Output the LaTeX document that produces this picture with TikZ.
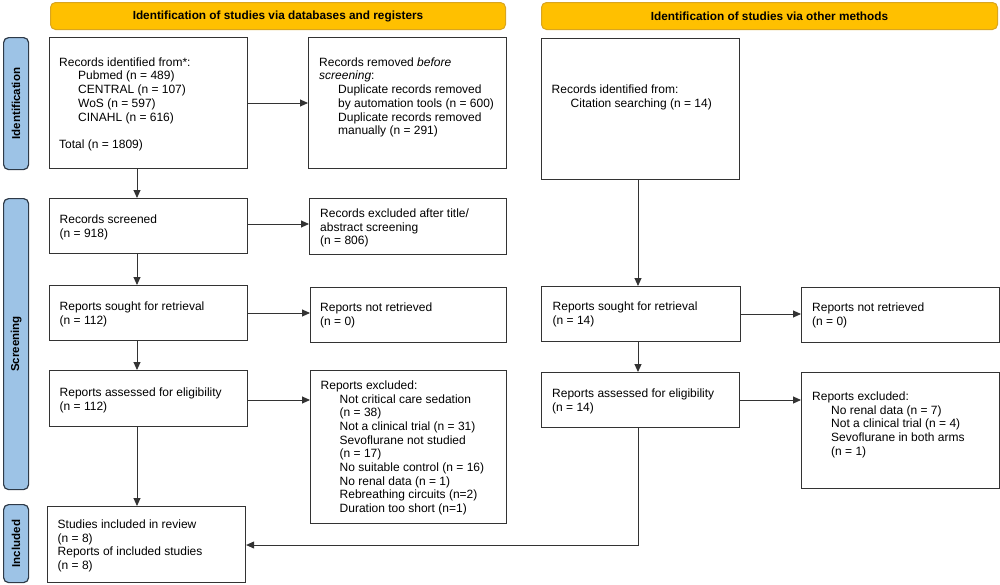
\documentclass[tikz,border=0pt]{standalone}
\usepackage{fontspec}
\setmainfont{Liberation Sans}
\usetikzlibrary{arrows.meta}
\definecolor{hdrfill}{HTML}{FFC000}
\definecolor{hdrdraw}{HTML}{D9A520}
\definecolor{sidefill}{HTML}{9DC3E6}
\definecolor{sidedraw}{HTML}{2E3A48}
\definecolor{linec}{HTML}{333333}
\tikzset{
  box/.style={draw=linec, line width=1.1pt, fill=white, inner sep=0pt, anchor=north west},
  hdr/.style={draw=hdrdraw, line width=1pt, fill=hdrfill, rounded corners=5pt, inner sep=0pt, anchor=north west,
    font=\fontsize{11.8}{13}\selectfont\bfseries},
  side/.style={draw=sidedraw, line width=1.2pt, fill=sidefill, rounded corners=5pt, inner sep=0pt, anchor=north west},
  sidetxt/.style={rotate=90, font=\fontsize{11.5}{13}\selectfont\bfseries, inner sep=0pt},
  txt/.style={font=\fontsize{12}{13.7}\selectfont, align=left, inner sep=0pt, anchor=north west},
  arr/.style={draw=linec, line width=0.9pt, -{Triangle[length=8pt,width=7pt]}},
}
\newcommand{\ind}{\hspace*{19pt}}
\begin{document}
\begin{tikzpicture}[x=1pt,y=-1pt]
\useasboundingbox (0,0) rectangle (1000,584);
% headers
\node[hdr, minimum width=455pt, minimum height=27pt] (hL) at (50,2) {};
\node (hLt) at (hL.center) [font=\fontsize{11.8}{13}\selectfont\bfseries] {Identification of studies via databases and registers};
\node[hdr, minimum width=456pt, minimum height=27pt] (hR) at (541,2) {};
\node (hRt) at (hR.center) [font=\fontsize{11.8}{13}\selectfont\bfseries] {Identification of studies via other methods};
% side labels
\node[side, minimum width=25pt, minimum height=132pt] (sI) at (3,37) {};
\node[sidetxt] (sIt) at (sI.center) {Identification};
\node[side, minimum width=25pt, minimum height=291pt] (sS) at (3,198) {};
\node[sidetxt] (sSt) at (sS.center) {Screening};
\node[side, minimum width=25pt, minimum height=78pt] (sN) at (3,504) {};
\node[sidetxt] (sNt) at (sN.center) {Included};
% left column boxes
\node[box, minimum width=198pt, minimum height=131pt] (b1) at (49,37) {};
\node[txt] (t1) at (59,57.4) {Records identified from*:\\\ind Pubmed (n = 489)\\\ind CENTRAL (n = 107)\\\ind WoS (n = 597)\\\ind CINAHL (n = 616)\\[13.7pt]Total (n = 1809)};
\node[box, minimum width=198pt, minimum height=55pt] (b4) at (49,198) {};
\node[txt] (t4) at (59.5,214.4) {Records screened\\(n = 918)};
\node[box, minimum width=198pt, minimum height=55pt] (b6) at (49,285) {};
\node[txt] (t6) at (59.5,301.4) {Reports sought for retrieval\\(n = 112)};
\node[box, minimum width=198pt, minimum height=56pt] (b8) at (49,370) {};
\node[txt] (t8) at (59.5,387.4) {Reports assessed for eligibility\\(n = 112)};
\node[box, minimum width=198pt, minimum height=76pt] (b10) at (47,506) {};
\node[txt] (t10) at (57.5,519.4) {Studies included in review\\(n = 8)\\Reports of included studies\\(n = 8)};
% middle column boxes
\node[box, minimum width=198pt, minimum height=131pt] (b2) at (308,37) {};
\node[txt] (t2) at (319,57.4) {Records removed \emph{before}\\\emph{screening}:\\\ind Duplicate records removed\\\ind by automation tools (n = 600)\\\ind Duplicate records removed\\\ind manually (n = 291)};
\node[box, minimum width=197pt, minimum height=56pt] (b5) at (309,198) {};
\node[txt] (t5) at (320,208.4) {Records excluded after title/\\abstract screening\\(n = 806)};
\node[box, minimum width=196pt, minimum height=55pt] (b7) at (310,287) {};
\node[txt] (t7) at (320,302.4) {Reports not retrieved\\(n = 0)};
\node[box, minimum width=196pt, minimum height=153pt] (b9) at (310,370) {};
\node[txt] (t9) at (320.5,380.4) {Reports excluded:\\\ind Not critical care sedation\\\ind (n = 38)\\\ind Not a clinical trial (n = 31)\\\ind Sevoflurane not studied\\\ind (n = 17)\\\ind No suitable control (n = 16)\\\ind No renal data (n = 1)\\\ind Rebreathing circuits (n=2)\\\ind Duration too short (n=1)};
% right side
\node[box, minimum width=198pt, minimum height=141pt] (c1) at (541,38) {};
\node[txt] (u1) at (551.5,84.9) {Records identified from:\\\ind Citation searching (n = 14)};
\node[box, minimum width=199pt, minimum height=55pt] (c2) at (541,286) {};
\node[txt] (u2) at (552.5,302) {Reports sought for retrieval\\(n = 14)};
\node[box, minimum width=198pt, minimum height=55pt] (c3) at (801,287) {};
\node[txt] (u3) at (812,302.4) {Reports not retrieved\\(n = 0)};
\node[box, minimum width=198pt, minimum height=55pt] (c4) at (541,372) {};
\node[txt] (u4) at (552,388.4) {Reports assessed for eligibility\\(n = 14)};
\node[box, minimum width=198pt, minimum height=116pt] (c5) at (801,372) {};
\node[txt] (u5) at (812,391.4) {Reports excluded:\\\ind No renal data (n = 7)\\\ind Not a clinical trial (n = 4)\\\ind Sevoflurane in both arms\\\ind (n = 1)};
% connectors left
\draw[arr] (b1.south -| 137,0) -- (b4.north -| 137,0);
\draw[arr] (b4.south -| 137,0) -- (b6.north -| 137,0);
\draw[arr] (b6.south -| 137,0) -- (b8.north -| 137,0);
\draw[arr] (b8.south -| 137,0) -- (b10.north -| 137,0);
\draw[arr] (b1.east |- 0,103) -- (b2.west |- 0,103);
\draw[arr] (b4.east |- 0,224) -- (b5.west |- 0,224);
\draw[arr] (b6.east |- 0,313) -- (b7.west |- 0,313);
\draw[arr] (b8.east |- 0,400) -- (b9.west |- 0,400);
% connectors right
\coordinate (bend) at (638,545);
\draw[arr] (c1.south -| 638,0) -- (c2.north -| 638,0);
\draw[arr] (c2.south -| 638,0) -- (c4.north -| 638,0);
\draw[arr] (c2.east |- 0,314) -- (c3.west |- 0,314);
\draw[arr] (c4.east |- 0,400) -- (c5.west |- 0,400);
\draw[arr] (c4.south -| bend) -- (bend) -- (b10.east |- bend);
\end{tikzpicture}
\end{document}
